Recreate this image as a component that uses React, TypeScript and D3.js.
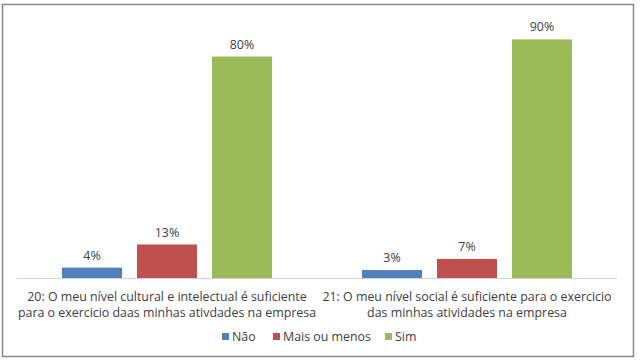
import React from 'react';
import * as d3 from 'd3';

const CATEGORIES = [
  ['20: O meu nível cultural e intelectual é suficiente', 'para o exercicio daas minhas ativdades na empresa'],
  ['21: O meu nível social é suficiente para o exercicio', 'das minhas atividades na empresa'],
];
const SERIES = ['Não', 'Mais ou menos', 'Sim'];
const COLORS = ['#4f81bd', '#c0504d', '#9bbb59'];
// bar heights (percent)
const VALUES = [
  [4, 12.5, 81.6],
  [3.1, 7.2, 87.9],
];
// data labels printed above the bars
const LABELS = [
  ['4%', '13%', '80%'],
  ['3%', '7%', '90%'],
];

const W = 641;
const H = 364;
const FONT = '"Open Sans", sans-serif';
const FS = 12.4;

export default function App() {
  const plot = { left: 17, right: 617, base: 278.5 };
  const x0 = d3.scaleBand().domain(['0', '1']).range([plot.left, plot.right]);
  const x1 = d3.scaleBand().domain(SERIES).range([0, 210]).paddingInner(0.2).paddingOuter(0);
  const y = d3.scaleLinear().domain([0, 100]).range([plot.base, plot.base - 272]);

  const legendX = [222, 273, 385];

  return (
    <div style={{ position: 'fixed', left: 0, top: 0, background: 'white' }}>
      <svg width={W} height={H} style={{ display: 'block', fontFamily: FONT }}>
        <rect x={2.5} y={4.5} width={631} height={352} fill="white" stroke="#868686" strokeWidth={1.5} />
        {VALUES.map((row, ci) => {
          const gx = x0(String(ci))! + (x0.bandwidth() - 210) / 2;
          return (
            <g key={ci}>
              {row.map((v, si) => {
                const bx = gx + x1(SERIES[si])!;
                return (
                  <g key={si}>
                    <rect x={bx} y={y(v)} width={x1.bandwidth()} height={plot.base - y(v)}
                      fill={COLORS[si]} />
                    <text x={bx + x1.bandwidth() / 2} y={y(v) - 8} textAnchor="middle"
                      fontSize={FS} fill="#404040">{LABELS[ci][si]}</text>
                  </g>
                );
              })}
              {CATEGORIES[ci].map((line, li) => (
                <text key={li} x={x0(String(ci))! + x0.bandwidth() / 2} y={301 + li * 16}
                  textAnchor="middle" fontSize={FS} fill="#404040">{line}</text>
              ))}
            </g>
          );
        })}
        <line x1={plot.left} x2={plot.right} y1={plot.base} y2={plot.base} stroke="#d0d0d0" />
        {SERIES.map((s, si) => (
          <g key={s}>
            <rect x={legendX[si]} y={333} width={7} height={7} fill={COLORS[si]} />
            <text x={legendX[si] + 10} y={341} fontSize={FS} fill="#404040">{s}</text>
          </g>
        ))}
      </svg>
    </div>
  );
}
